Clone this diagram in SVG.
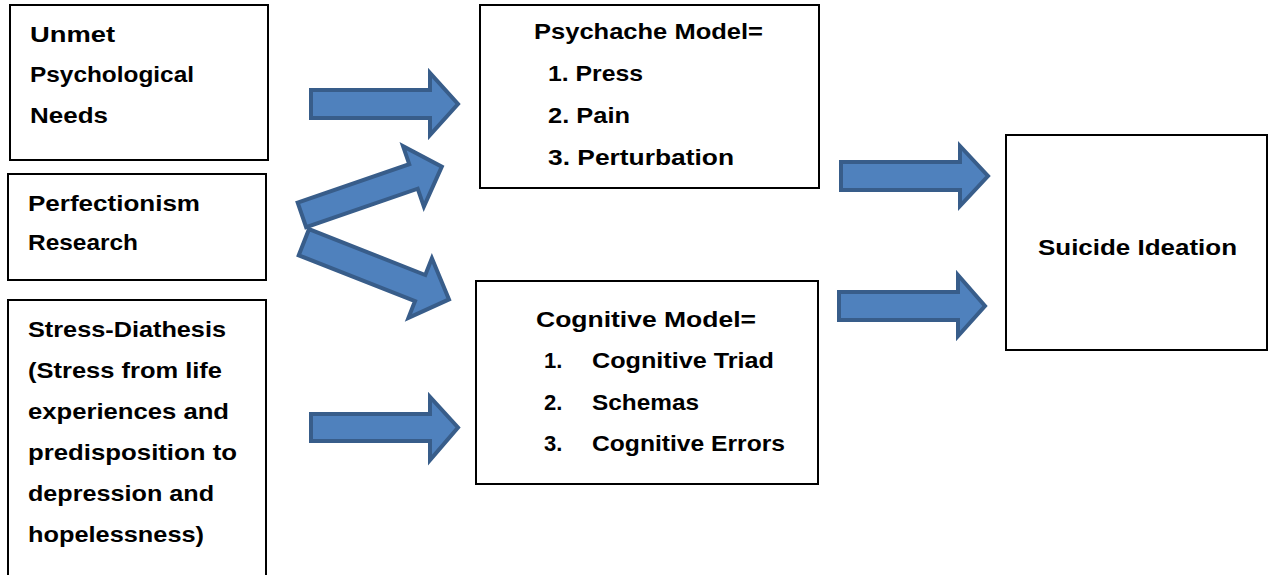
<svg xmlns="http://www.w3.org/2000/svg" width="1268" height="575" viewBox="0 0 1268 575">
<style>
.box{fill:#fff;stroke:#000;stroke-width:2}
.t{font-family:"Liberation Sans",Arial,sans-serif;font-weight:bold;font-size:22px;fill:#000}
.arr{fill:#4F81BD;stroke:#385D8A;stroke-width:4;stroke-linejoin:miter}
</style>
<rect width="1268" height="575" fill="#fff"/>
<g id="connectors">
<path class="arr" d="M311,90 L430,90 L430,73 L458,104 L430,135 L430,118 L311,118 Z"/>
<path class="arr" transform="translate(300,215.5) rotate(-19)" d="M2,-13 L120,-13 L120,-32 L150,0 L120,32 L120,13 L2,13 Z"/>
<path class="arr" transform="translate(302,241.5) rotate(21.5)" d="M2,-14 L127,-14 L127,-32 L158,0 L127,32 L127,14 L2,14 Z"/>
<path class="arr" d="M311,414 L430,414 L430,397 L458,427.5 L430,460 L430,441 L311,441 Z"/>
<path class="arr" d="M841,162 L960,162 L960,146 L988,176 L960,206 L960,190 L841,190 Z"/>
<path class="arr" d="M839,292 L958,292 L958,275 L985,306 L958,336 L958,320 L839,320 Z"/>
</g>
<g id="unmet">
<rect class="box" x="10" y="5" width="258" height="155"/>
<text class="t" x="30" y="42" textLength="85" lengthAdjust="spacingAndGlyphs">Unmet</text>
<text class="t" x="30" y="82" textLength="164" lengthAdjust="spacingAndGlyphs">Psychological</text>
<text class="t" x="30" y="123" textLength="78" lengthAdjust="spacingAndGlyphs">Needs</text>
</g>
<g id="perfectionism">
<rect class="box" x="8" y="174" width="258" height="106"/>
<text class="t" x="28" y="211" textLength="172" lengthAdjust="spacingAndGlyphs">Perfectionism</text>
<text class="t" x="28" y="250" textLength="110" lengthAdjust="spacingAndGlyphs">Research</text>
</g>
<g id="stress">
<rect class="box" x="8" y="300" width="258" height="290"/>
<text class="t" x="28" y="337" textLength="198" lengthAdjust="spacingAndGlyphs">Stress-Diathesis</text>
<text class="t" x="28" y="378" textLength="194" lengthAdjust="spacingAndGlyphs">(Stress from life</text>
<text class="t" x="28" y="419" textLength="201" lengthAdjust="spacingAndGlyphs">experiences and</text>
<text class="t" x="28" y="460" textLength="209" lengthAdjust="spacingAndGlyphs">predisposition to</text>
<text class="t" x="28" y="501" textLength="186" lengthAdjust="spacingAndGlyphs">depression and</text>
<text class="t" x="28" y="542" textLength="176" lengthAdjust="spacingAndGlyphs">hopelessness)</text>
</g>
<g id="psychache">
<rect class="box" x="480" y="5" width="339" height="183"/>
<text class="t" x="534" y="39" textLength="229" lengthAdjust="spacingAndGlyphs">Psychache Model=</text>
<text class="t" x="548" y="81" textLength="95" lengthAdjust="spacingAndGlyphs">1. Press</text>
<text class="t" x="548" y="123" textLength="82" lengthAdjust="spacingAndGlyphs">2. Pain</text>
<text class="t" x="548" y="165" textLength="186" lengthAdjust="spacingAndGlyphs">3. Perturbation</text>
</g>
<g id="cognitive">
<rect class="box" x="476" y="281" width="342" height="203"/>
<text class="t" x="536" y="327" textLength="220" lengthAdjust="spacingAndGlyphs">Cognitive Model=</text>
<text class="t" x="544" y="368">1.</text>
<text class="t" x="592" y="368" textLength="182" lengthAdjust="spacingAndGlyphs">Cognitive Triad</text>
<text class="t" x="544" y="410">2.</text>
<text class="t" x="592" y="410" textLength="107" lengthAdjust="spacingAndGlyphs">Schemas</text>
<text class="t" x="544" y="451">3.</text>
<text class="t" x="592" y="451" textLength="193" lengthAdjust="spacingAndGlyphs">Cognitive Errors</text>
</g>
<g id="suicide">
<rect class="box" x="1006" y="135" width="261" height="215"/>
<text class="t" x="1038" y="255" textLength="199" lengthAdjust="spacingAndGlyphs">Suicide Ideation</text>
</g>
</svg>
